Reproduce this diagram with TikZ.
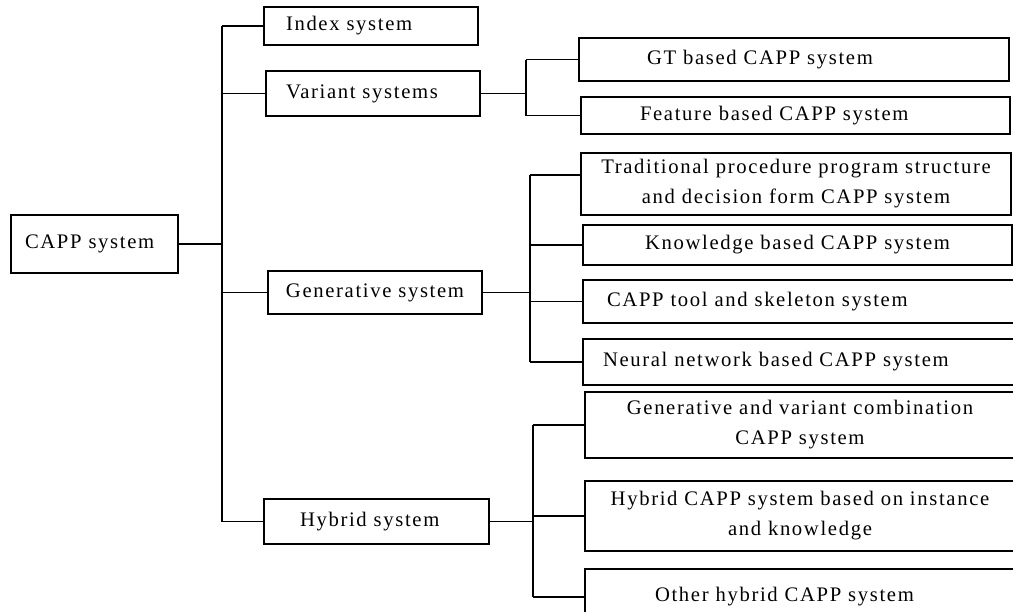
\documentclass[tikz,border=0pt]{standalone}
\usepackage{fontspec}
\setmainfont{Liberation Serif}[LetterSpace=8]
\tikzset{%
	sysbox/.style 2 args = {draw, rectangle, line width=1pt, inner sep=0pt, align=center, minimum width=#1, minimum height=#2, font=\fontsize{15.5}{22.5}\selectfont},
	leftpad/.style 2 args = {align=left, inner xsep=#1, text width=#2},
	link/.style          = {line width=1pt},
}
\begin{document}
\begin{tikzpicture}[x=0.75pt,y=-0.75pt]
	\useasboundingbox (0,0) rectangle (1013,611);
	
	\node[sysbox={125.25pt}{43.5pt}, leftpad={10.5pt}{104.25pt}] (capp) at (94.5,244) {CAPP system};
	
	\node[sysbox={160.5pt}{28.5pt}, leftpad={16.5pt}{127.5pt}]  (index)   at (371,26)    {Index system};
	\node[sysbox={160.5pt}{33.75pt}, leftpad={15pt}{130.5pt}]   (variant) at (373,93.5)  {Variant systems};
	\node[sysbox={160.5pt}{32.25pt}] (gener)   at (375,292.5) {Generative system};
	\node[sysbox={168.75pt}{33.75pt}, leftpad={27pt}{114.75pt}] (hybrid) at (376.5,521.5) {Hybrid system};
	
	\node[sysbox={322.5pt}{32.25pt}, leftpad={51pt}{220.5pt}]     (gt)      at (794,59.5)  {GT based CAPP system};
	\node[sysbox={321.75pt}{27.75pt}, leftpad={44.25pt}{233.25pt}] (feature) at (795.5,115.5) {Feature based CAPP system};
	
	\node[sysbox={322.5pt}{46.5pt}]   (trad)    at (796,184)   {Traditional procedure program structure\\and decision form CAPP system};
	\node[sysbox={321.75pt}{30pt}]    (know)    at (797.5,245) {Knowledge based CAPP system};
	\node[sysbox={324pt}{32.25pt}, leftpad={18pt}{288pt}]   (tool)    at (799,301.5) {CAPP tool and skeleton system};
	\node[sysbox={324pt}{34.5pt}, leftpad={15pt}{294pt}]    (neural)  at (799,362)   {Neural network based CAPP system};
	
	\node[sysbox={322.5pt}{49.5pt}]   (genvar)  at (800,425)   {Generative and variant combination\\CAPP system};
	\node[sysbox={322.5pt}{52.5pt}]   (hycapp)  at (800,516)   {Hybrid CAPP system based on instance\\and knowledge};
	\node[sysbox={322.5pt}{42pt}, leftpad={52.5pt}{217.5pt}] (other) at (800,597) {Other hybrid CAPP system};
	
	\coordinate (trunkA) at (222,0);
	\coordinate (trunkB) at (526,0);
	\coordinate (trunkC) at (530,0);
	\coordinate (trunkD) at (533,0);
	\coordinate (tradin) at ([yshift=6.75pt]trad.west);
	
	\draw[link] (capp.east) -- (capp.east -| trunkA);
	\draw[link] (trunkA |- index.west) -- (trunkA |- hybrid.west);
	\foreach \n in {index,variant,gener,hybrid} \draw[link] (trunkA |- \n.west) -- (\n.west);
	
	\draw[link] (variant.east) -- (variant.east -| trunkB);
	\draw[link] (trunkB |- gt.west) -- (trunkB |- feature.west);
	\foreach \n in {gt,feature} \draw[link] (trunkB |- \n.west) -- (\n.west);
	
	\draw[link] (gener.east) -- (gener.east -| trunkC);
	\draw[link] (trunkC |- tradin) -- (trunkC |- neural.west);
	\foreach \n in {tradin,know.west,tool.west,neural.west} \draw[link] (trunkC |- \n) -- (\n);
	
	\draw[link] (hybrid.east) -- (hybrid.east -| trunkD);
	\draw[link] (trunkD |- genvar.west) -- (trunkD |- other.west);
	\foreach \n in {genvar,hycapp,other} \draw[link] (trunkD |- \n.west) -- (\n.west);
\end{tikzpicture}
\end{document}
